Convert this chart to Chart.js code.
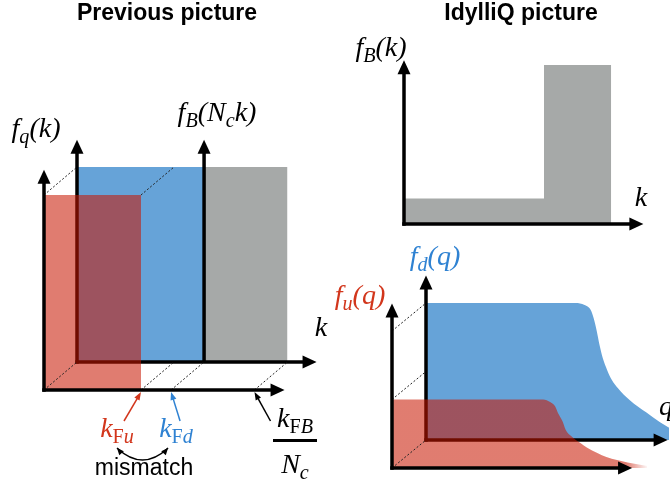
<!DOCTYPE html>
<html>
<head>
<meta charset="utf-8">
<script src="https://cdn.jsdelivr.net/npm/chart.js@4"></script>
<style>
  html, body { margin: 0; padding: 0; background: #fff; }
  #wrap { position: relative; width: 670px; height: 485px; overflow: hidden; }
  canvas { position: absolute; left: 0; top: 0; }
  .t { position: absolute; transform: translate(-50%, -50%); white-space: nowrap; line-height: 1; }
  .title { font: bold 23px "Liberation Sans", Arial, sans-serif; }
  .m { font: italic 28px "Liberation Serif", "Times New Roman", serif; }
  .m sub { font-size: 0.72em; vertical-align: -0.28em; line-height: 0; }
  .up { font-style: normal; }
  .bar { position: absolute; background: #000; }
</style>
</head>
<body>
<div id="wrap">
  <canvas id="prevBack" width="670" height="485"></canvas>
  <canvas id="prevFront" width="670" height="485"></canvas>
  <canvas id="idyl" width="670" height="485"></canvas>
  <canvas id="qBack" width="670" height="485"></canvas>
  <canvas id="qFront" width="670" height="485"></canvas>

  <div class="t title" style="left:167px;top:12px">Previous picture</div>
  <div class="t title" style="left:521px;top:12px">IdylliQ picture</div>

  <div class="t m" style="left:36px;top:128px">f<sub>q</sub>(k)</div>
  <div class="t m" style="left:217px;top:112px">f<sub>B</sub>(N<sub>c</sub>k)</div>
  <div class="t m" style="left:321px;top:327px">k</div>
  <div class="t m" style="left:117px;top:428px;color:#d2361c">k<sub><span class="up">F</span>u</sub></div>
  <div class="t m" style="left:176px;top:428px;color:#2f82d2">k<sub><span class="up">F</span>d</sub></div>
  <div class="t m" style="left:295px;top:418px">k<sub><span class="up">F</span>B</sub></div>
  <div class="bar" style="left:273px;top:439px;width:44px;height:3px"></div>
  <div class="t m" style="left:295px;top:464px">N<sub>c</sub></div>
  <div class="t" style="left:144px;top:467px;font:23px 'Liberation Sans', Arial, sans-serif">mismatch</div>

  <div class="t m" style="left:381px;top:47px">f<sub>B</sub>(k)</div>
  <div class="t m" style="left:641px;top:197px">k</div>
  <div class="t m" style="left:435px;top:256px;color:#2f82d2">f<sub>d</sub>(q)</div>
  <div class="t m" style="left:360px;top:295px;color:#d2361c">f<sub>u</sub>(q)</div>
  <div class="t m" style="left:666px;top:406px">q</div>
</div>
<script>
const W = 670, H = 485;

// previous picture: k edges = 0, k_Fu, k_Fd, k_FB/N_c ; flat occupations (quark, d/baryon, baryon)
const prevK = [0, 1.0, 1.31, 2.17];
const prevF = [1, 1, 1];

// IdylliQ baryon distribution f_B(k)
const idylK = [0, 1.0, 1.0, 1.48];
const idylF = [0.16, 0.16, 1.0, 1.0];

// quark distributions f_d(q), f_u(q)
const qD = [0, 0.99, 1.05, 1.09, 1.11, 1.13, 1.15, 1.17, 1.20, 1.23, 1.27, 1.35, 1.46, 1.55, 1.61];
const fD = [1, 1, 0.985, 0.95, 0.89, 0.80, 0.69, 0.60, 0.51, 0.44, 0.38, 0.29, 0.20, 0.13, 0.09];
const qU = [0, 1.0, 1.05, 1.08, 1.10, 1.13, 1.15, 1.19, 1.25, 1.29, 1.36, 1.42, 1.56, 1.69];
const fU = [0.5, 0.5, 0.48, 0.45, 0.40, 0.34, 0.28, 0.23, 0.18, 0.15, 0.11, 0.08, 0.04, 0.015];

const BLUE = '#66a3d8', GRAY = '#a6a9a8', RED = 'rgba(200,22,0,0.56)';

// where each plane sits: origin px, px per unit, axis tip, scale max
const planes = {
  prevBack:  { ox: 77,  oy: 362, sx: 97,  sy: 195, ax: 2.47, ay: 1.14, xs: 2.6,  ys: 1.2 },
  prevFront: { ox: 44,  oy: 390, sx: 97,  sy: 195, ax: 2.48, ay: 1.13, xs: 2.6,  ys: 1.2 },
  idyl:      { ox: 404, oy: 224, sx: 140, sy: 159, ax: 1.71, ay: 1.03, xs: 1.75, ys: 1.1 },
  qBack:     { ox: 426, oy: 440, sx: 151, sy: 137, ax: 1.60, ay: 1.20, xs: 1.615, ys: 1.25 },
  qFront:    { ox: 392, oy: 468, sx: 151, sy: 137, ax: 1.59, ay: 1.20, xs: 1.75, ys: 1.25 }
};

const zip = (xs, ys) => xs.map((x, i) => ({ x, y: ys[i] }));

function arrow(c, x1, y1, x2, y2, lw, hl, hw, col) {
  const a = Math.atan2(y2 - y1, x2 - x1);
  c.save();
  c.strokeStyle = col; c.fillStyle = col; c.lineWidth = lw; c.setLineDash([]);
  c.beginPath();
  c.moveTo(x1, y1);
  c.lineTo(x2 - Math.cos(a) * hl * 0.8, y2 - Math.sin(a) * hl * 0.8);
  c.stroke();
  c.translate(x2, y2); c.rotate(a);
  c.beginPath(); c.moveTo(0, 0); c.lineTo(-hl, -hw / 2); c.lineTo(-hl, hw / 2); c.closePath(); c.fill();
  c.restore();
}

function px(ch) {
  return [v => ch.scales.x.getPixelForValue(v), v => ch.scales.y.getPixelForValue(v)];
}

function axes(ch, p) {
  const c = ch.ctx, [X, Y] = px(ch);
  arrow(c, X(0) - 1.75, Y(0), X(p.ax), Y(0), 3.5, 14, 13, '#000');
  arrow(c, X(0), Y(0) + 1.75, X(0), Y(p.ay), 3.5, 14, 13, '#000');
}

// dotted lines joining the same (k, f) point on the front and back planes
function depth(ch, back, pts) {
  const c = ch.ctx, [X, Y] = px(ch), [BX, BY] = px(back);
  c.save();
  c.strokeStyle = '#222'; c.lineWidth = 1; c.setLineDash([2, 2]);
  pts.forEach(([x, y]) => {
    c.beginPath(); c.moveTo(X(x), Y(y)); c.lineTo(BX(x), BY(y)); c.stroke();
  });
  c.restore();
}

function makePlane(id, datasets, after) {
  const p = planes[id];
  return new Chart(document.getElementById(id), {
    type: 'line',
    data: { datasets },
    options: {
      responsive: false, animation: false, events: [],
      layout: { padding: {
        left: p.ox, top: p.oy - p.ys * p.sy,
        right: W - p.ox - p.xs * p.sx, bottom: H - p.oy } },
      scales: {
        x: { type: 'linear', display: false, min: 0, max: p.xs },
        y: { type: 'linear', display: false, min: 0, max: p.ys }
      },
      plugins: { legend: { display: false }, tooltip: { enabled: false } },
      elements: { point: { radius: 0 }, line: { borderWidth: 0 } }
    },
    plugins: [{ id: id + 'Deco', afterDatasetsDraw: ch => after(ch, p) }]
  });
}

function area(data, color, smooth) {
  return { data, fill: 'origin', backgroundColor: color, borderWidth: 0, pointRadius: 0,
           clip: false, cubicInterpolationMode: smooth ? 'monotone' : 'default' };
}

// ---- previous picture ----
const prevBack = makePlane('prevBack', [
  area([{ x: prevK[0], y: prevF[1] }, { x: prevK[2], y: prevF[1] }], BLUE),
  area([{ x: prevK[2], y: prevF[2] }, { x: prevK[3], y: prevF[2] }], GRAY)
], (ch, p) => {
  axes(ch, p);
  const [X, Y] = px(ch);
  arrow(ch.ctx, X(prevK[2]), Y(0), X(prevK[2]), Y(p.ay), 3.5, 14, 13, '#000');
});

makePlane('prevFront', [
  area([{ x: prevK[0], y: prevF[0] }, { x: prevK[1], y: prevF[0] }], RED)
], (ch, p) => {
  const c = ch.ctx, [X, Y] = px(ch);
  depth(ch, prevBack, [[0, 0], [0, prevF[0]], [prevK[1], prevF[0]], [prevK[1], 0], [prevK[2], 0], [prevK[3], 0]]);
  axes(ch, p);
  const y0 = Y(0) + 2;
  arrow(c, X(prevK[1]) - 17, y0 + 29, X(prevK[1]), y0, 1.5, 8, 6, '#d2361c');
  arrow(c, X(prevK[2]) + 9, y0 + 29, X(prevK[2]), y0, 1.5, 8, 6, '#2f82d2');
  arrow(c, X(prevK[3]) + 16, y0 + 29, X(prevK[3]), y0, 1.5, 8, 6, '#000');
  // mismatch double arrow
  const ax = X(prevK[1]) - 24, bx = X(prevK[2]) - 3, yy = y0 + 56, cx = (ax + bx) / 2, cy = yy + 24;
  c.save();
  c.strokeStyle = '#000'; c.lineWidth = 1.5;
  c.beginPath(); c.moveTo(ax, yy); c.quadraticCurveTo(cx, cy, bx, yy); c.stroke();
  c.restore();
  arrow(c, ax + 3, yy + 3.5, ax, yy, 1.5, 7, 6, '#000');
  arrow(c, bx - 3, yy + 3.5, bx, yy, 1.5, 7, 6, '#000');
});

// ---- IdylliQ: baryons ----
makePlane('idyl', [area(zip(idylK, idylF), GRAY)], (ch, p) => axes(ch, p));

// ---- IdylliQ: quarks ----
const qBack = makePlane('qBack', [area(zip(qD, fD), BLUE, true)], (ch, p) => axes(ch, p));

makePlane('qFront', [{
  ...area(zip(qU, fU), RED, true),
  backgroundColor: ctx => {
    const ch = ctx.chart;
    if (!ch.chartArea) return RED;
    const x = ch.scales.x;
    const g = ch.ctx.createLinearGradient(x.getPixelForValue(1.55), 0, x.getPixelForValue(1.7), 0);
    g.addColorStop(0, RED); g.addColorStop(1, 'rgba(200,22,0,0)');
    return g;
  }
}], (ch, p) => {
  depth(ch, qBack, [[0, 0], [0, fU[0]], [0, fD[0]]]);
  axes(ch, p);
});
</script>
</body>
</html>
